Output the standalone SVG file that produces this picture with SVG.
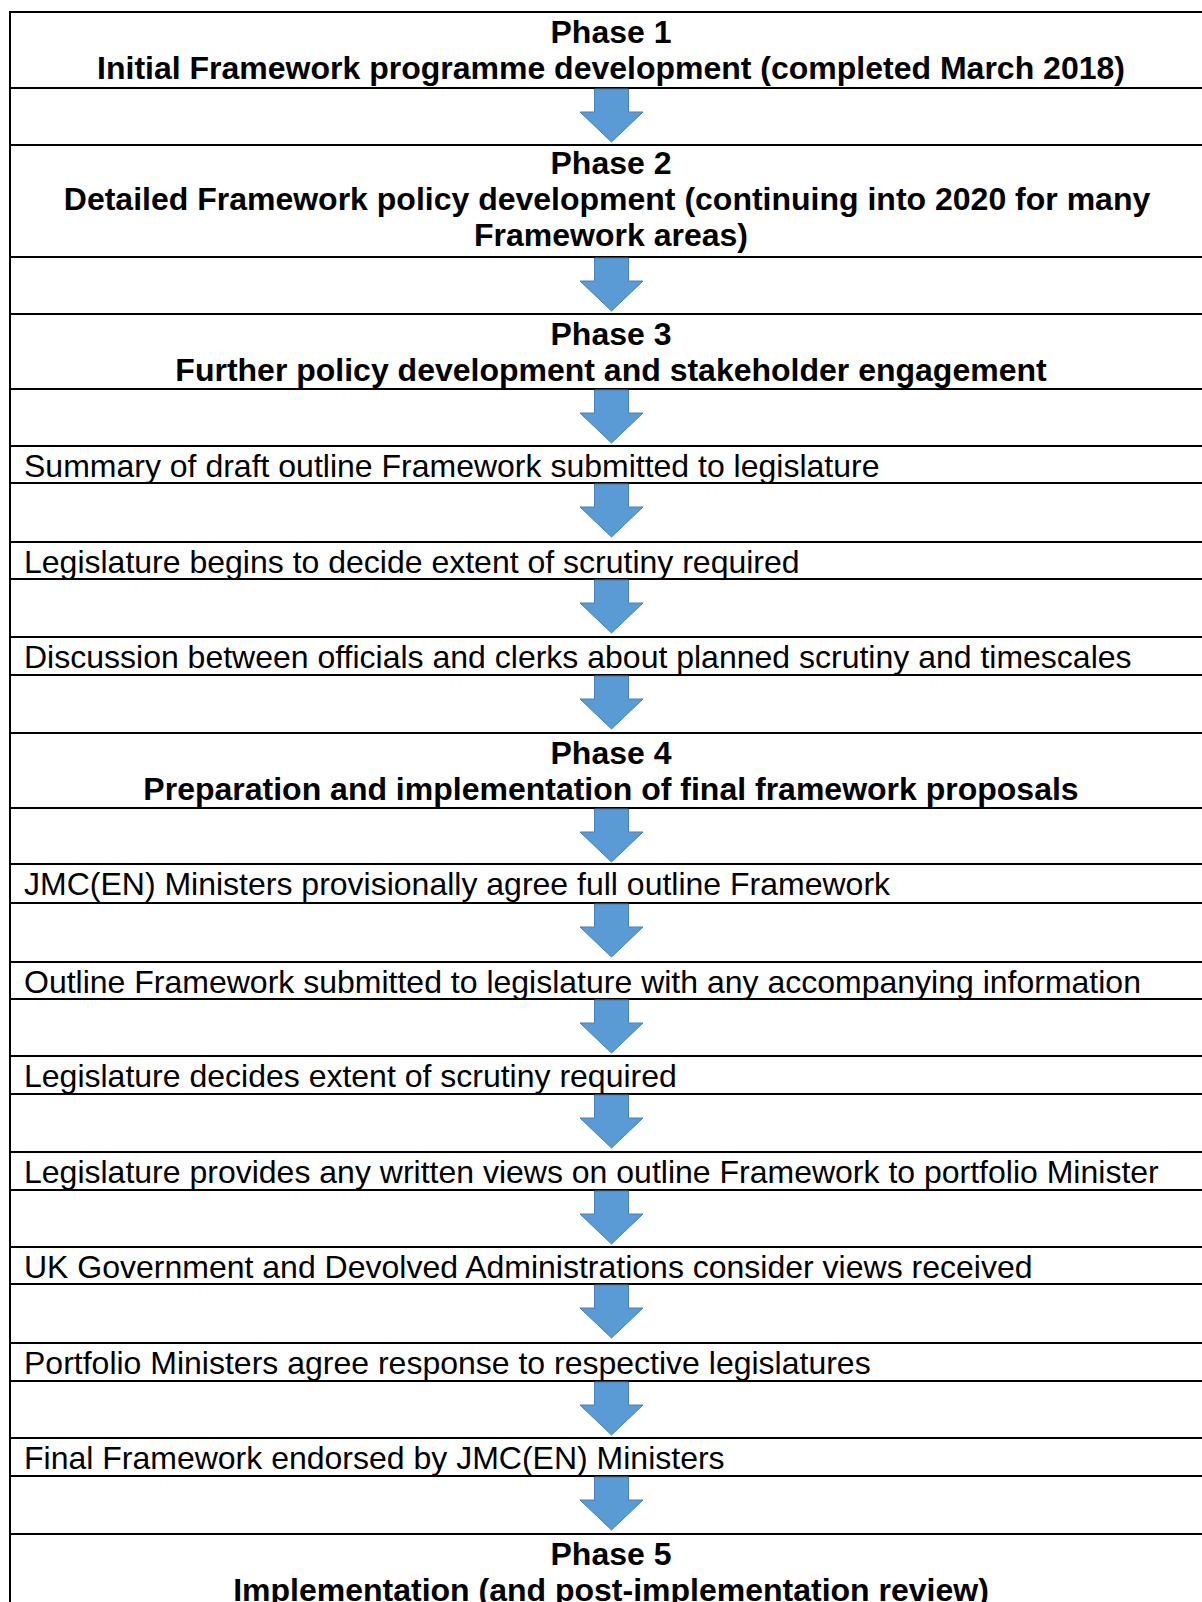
<svg xmlns="http://www.w3.org/2000/svg" width="1202" height="1602" viewBox="0 0 1202 1602">
<defs>
<style>
.cell{fill:#ffffff;stroke:#000000;stroke-width:2}
.frame{stroke:#000000;stroke-width:2;fill:none}
.h{font-family:"Liberation Sans",Arial,sans-serif;font-size:32px;font-weight:bold;fill:#000000;text-anchor:middle}
.t{font-family:"Liberation Sans",Arial,sans-serif;font-size:32px;fill:#000000}
.arrow{fill:#5b9bd5;stroke:#4a80b8;stroke-width:1}
</style>
<path id="arw" d="M-17,1 L17,1 L17,24 L31.5,24 L0,54 L-31.5,24 L-17,24 Z"/>
</defs>
<rect x="0" y="0" width="1202" height="1602" fill="#ffffff"/>
<g id="phase1"><rect class="cell" x="10" y="12" width="1210" height="76"/><text class="h" x="611" y="43">Phase 1</text><text class="h" x="611" y="79">Initial Framework programme development (completed March 2018)</text></g>
<g id="phase2"><rect class="cell" x="10" y="145" width="1210" height="112"/><text class="h" x="611" y="174">Phase 2</text><text class="h" x="607" y="210">Detailed Framework policy development (continuing into 2020 for many</text><text class="h" x="611" y="246">Framework areas)</text></g>
<g id="phase3"><rect class="cell" x="10" y="314" width="1210" height="75"/><text class="h" x="611" y="345">Phase 3</text><text class="h" x="611" y="381">Further policy development and stakeholder engagement</text></g>
<g id="step1"><rect class="cell" x="10" y="446" width="1210" height="37"/><text class="t" x="24" y="477">Summary of draft outline Framework submitted to legislature</text></g>
<g id="step2"><rect class="cell" x="10" y="542" width="1210" height="37"/><text class="t" x="24" y="573">Legislature begins to decide extent of scrutiny required</text></g>
<g id="step3"><rect class="cell" x="10" y="637" width="1210" height="38"/><text class="t" x="24" y="668">Discussion between officials and clerks about planned scrutiny and timescales</text></g>
<g id="phase4"><rect class="cell" x="10" y="733" width="1210" height="75"/><text class="h" x="611" y="764">Phase 4</text><text class="h" x="611" y="800">Preparation and implementation of final framework proposals</text></g>
<g id="step4"><rect class="cell" x="10" y="864" width="1210" height="39"/><text class="t" x="24" y="895">JMC(EN) Ministers provisionally agree full outline Framework</text></g>
<g id="step5"><rect class="cell" x="10" y="962" width="1210" height="37"/><text class="t" x="24" y="993">Outline Framework submitted to legislature with any accompanying information</text></g>
<g id="step6"><rect class="cell" x="10" y="1056" width="1210" height="38"/><text class="t" x="24" y="1087">Legislature decides extent of scrutiny required</text></g>
<g id="step7"><rect class="cell" x="10" y="1152" width="1210" height="38"/><text class="t" x="24" y="1183">Legislature provides any written views on outline Framework to portfolio Minister</text></g>
<g id="step8"><rect class="cell" x="10" y="1247" width="1210" height="37"/><text class="t" x="24" y="1278">UK Government and Devolved Administrations consider views received</text></g>
<g id="step9"><rect class="cell" x="10" y="1343" width="1210" height="38"/><text class="t" x="24" y="1374">Portfolio Ministers agree response to respective legislatures</text></g>
<g id="step10"><rect class="cell" x="10" y="1438" width="1210" height="38"/><text class="t" x="24" y="1469">Final Framework endorsed by JMC(EN) Ministers</text></g>
<g id="phase5"><rect class="cell" x="10" y="1534" width="1210" height="120"/><text class="h" x="611" y="1565">Phase 5</text><text class="h" x="611" y="1601">Implementation (and post-implementation review)</text></g>
<g id="frame"><line class="frame" x1="10" y1="11" x2="10" y2="1602"/></g>
<g id="connectors">
<use href="#arw" class="arrow" x="611.5" y="88"/>
<use href="#arw" class="arrow" x="611.5" y="257"/>
<use href="#arw" class="arrow" x="611.5" y="389"/>
<use href="#arw" class="arrow" x="611.5" y="483"/>
<use href="#arw" class="arrow" x="611.5" y="579"/>
<use href="#arw" class="arrow" x="611.5" y="675"/>
<use href="#arw" class="arrow" x="611.5" y="808"/>
<use href="#arw" class="arrow" x="611.5" y="903"/>
<use href="#arw" class="arrow" x="611.5" y="999"/>
<use href="#arw" class="arrow" x="611.5" y="1094"/>
<use href="#arw" class="arrow" x="611.5" y="1190"/>
<use href="#arw" class="arrow" x="611.5" y="1284"/>
<use href="#arw" class="arrow" x="611.5" y="1381"/>
<use href="#arw" class="arrow" x="611.5" y="1476"/>
</g>
</svg>
